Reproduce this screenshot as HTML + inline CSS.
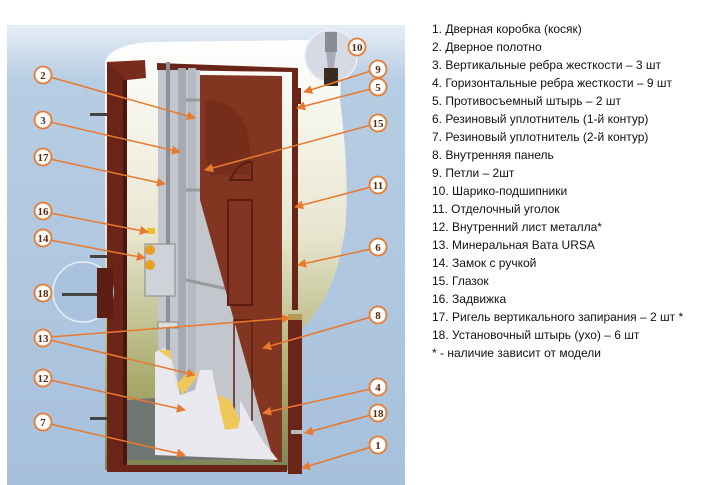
<!DOCTYPE html>
<html><head><meta charset="utf-8"><style>
html,body{margin:0;padding:0;background:#fff;}
body{width:703px;height:485px;overflow:hidden;position:relative;font-family:"Liberation Sans",sans-serif;}
.leg{position:absolute;left:432px;top:20px;font-size:12px;line-height:18px;color:#111;white-space:nowrap;}
</style></head><body>
<svg width="703" height="485" style="position:absolute;left:0;top:0">
<defs>
<linearGradient id="wall" x1="0" y1="0" x2="0" y2="1"><stop offset="0" stop-color="#e6eef6"/><stop offset="0.12" stop-color="#b7cde3"/><stop offset="1" stop-color="#a7c0dc"/></linearGradient>
<linearGradient id="open" x1="0" y1="0" x2="0" y2="1"><stop offset="0" stop-color="#ffffff"/><stop offset="0.45" stop-color="#e8e6cf"/><stop offset="0.8" stop-color="#a8aa6a"/><stop offset="1" stop-color="#7d8455"/></linearGradient>
<marker id="ar" viewBox="0 0 10 10" refX="9" refY="5" markerWidth="6" markerHeight="6" orient="auto"><path d="M0,0L10,5L0,10z" fill="#e8792f"/></marker>
</defs>
<rect x="7" y="25" width="398" height="460" fill="url(#wall)"/>
<path d="M105,62 Q110,45 150,42 L310,40 Q345,50 340,100 Q350,180 345,230 Q335,300 300,330 L300,470 L105,470z" fill="url(#open)"/>
<path d="M127,400 L200,395 L280,460 L127,460z" fill="#6f7570"/>
<rect x="107" y="62" width="20" height="410" fill="#6b2418"/>
<rect x="123" y="80" width="4" height="385" fill="#4a160e"/>
<path d="M107,62 L145,60 L146,78 L127,80z" fill="#7a2c1c"/>
<rect x="127" y="465" width="160" height="7" fill="#6b2418"/>
<rect x="90" y="113" width="17" height="3" fill="#444"/><rect x="90" y="255" width="17" height="3" fill="#444"/><rect x="90" y="417" width="17" height="3" fill="#444"/>
<path d="M157,63 L298,68 L298,310 L292,310 L292,72 L157,70z" fill="#6b2418"/>
<path d="M158,70 L200,70 L200,200 L280,460 L158,440z" fill="#c3c6cc"/>
<rect x="166" y="62" width="4" height="290" fill="#8d9098"/>
<rect x="178" y="68" width="8" height="330" fill="#a6aab3"/>
<rect x="188" y="68" width="8" height="380" fill="#b4b8c0"/>
<line x1="186" y1="100" x2="200" y2="100" stroke="#999" stroke-width="3"/>
<line x1="186" y1="190" x2="205" y2="190" stroke="#999" stroke-width="3"/>
<line x1="186" y1="280" x2="232" y2="290" stroke="#999" stroke-width="3"/>
<path d="M200,75 L282,76 L282,462 L274,462 L200,200z" fill="#823520"/>
<path d="M205,100 Q245,100 250,145 L250,175 L210,175 L205,150z" fill="#6e2a18" opacity="0.6"/>
<rect x="228" y="200" width="24" height="105" fill="none" stroke="#5a1f10" stroke-width="2"/>
<path d="M230,180 Q240,160 252,162 L252,180z" fill="none" stroke="#5a1f10" stroke-width="2"/>
<rect x="234" y="320" width="18" height="100" fill="none" stroke="#5a1f10" stroke-width="1.5"/>
<rect x="288" y="314" width="14" height="160" fill="#6b2418"/>
<rect x="288" y="314" width="14" height="6" fill="#b89a58"/>
<rect x="291" y="430" width="15" height="4" fill="#bbb"/>
<path d="M155,352 L165,348 L172,360 L180,395 L195,390 L200,370 L212,370 L218,400 L240,420 L240,400 L262,440 L278,460 L155,455z" fill="#e8e8ee"/>
<path d="M158,350 L170,350 L176,385 L185,375 L198,372 L195,380 L182,395 L175,380 L172,360z" fill="#f0c85a"/>
<path d="M218,395 L230,400 L240,420 L238,428 L225,430 L220,410z" fill="#f0c85a"/>
<rect x="145" y="244" width="30" height="52" fill="#cfd2d8" stroke="#888"/>
<circle cx="150" cy="250" r="5" fill="#e8a020"/><circle cx="150" cy="265" r="5" fill="#e8a020"/>
<rect x="147" y="228" width="8" height="6" fill="#e8c030"/>
<rect x="158" y="322" width="20" height="6" fill="#ddd" stroke="#888"/>
<circle cx="83" cy="292" r="30" fill="#a9c2dd" stroke="#e8eef6" stroke-width="1.5"/>
<rect x="97" y="268" width="16" height="50" fill="#5a1e12"/>
<rect x="62" y="293" width="35" height="3" fill="#444"/>
<circle cx="331" cy="56" r="26" fill="#d6dbe3" stroke="#eef" stroke-width="1.5"/>
<rect x="325" y="32" width="12" height="20" fill="#8a8e94"/><path d="M326,52 L336,52 L334,68 L328,68z" fill="#aab"/>
<rect x="324" y="68" width="14" height="18" fill="#3a2a20"/>
<rect x="296" y="88" width="5" height="16" fill="#6b2418"/>
<g stroke="#e8792f" stroke-width="1.5" fill="none" marker-end="url(#ar)">
<line x1="50" y1="77" x2="195" y2="118"/>
<line x1="50" y1="122" x2="180" y2="152"/>
<line x1="50" y1="159" x2="165" y2="184"/>
<line x1="50" y1="213" x2="148" y2="232"/>
<line x1="50" y1="240" x2="145" y2="258"/>
<line x1="50" y1="337" x2="290" y2="318"/>
<line x1="50" y1="340" x2="195" y2="375"/>
<line x1="50" y1="380" x2="185" y2="410"/>
<line x1="50" y1="424" x2="185" y2="455"/>
<line x1="371" y1="71" x2="304" y2="92"/>
<line x1="371" y1="89" x2="297" y2="108"/>
<line x1="371" y1="125" x2="205" y2="170"/>
<line x1="371" y1="187" x2="295" y2="207"/>
<line x1="371" y1="249" x2="298" y2="265"/>
<line x1="371" y1="317" x2="263" y2="348"/>
<line x1="371" y1="389" x2="263" y2="413"/>
<line x1="371" y1="415" x2="305" y2="433"/>
<line x1="371" y1="447" x2="302" y2="468"/>
</g>
<g font-family="Liberation Serif,serif" font-size="11" font-weight="bold" fill="#5a2a10" text-anchor="middle">
<g stroke="#e8792f" stroke-width="1.8" fill="#fff">
<circle cx="43" cy="75" r="8.5"/><circle cx="43" cy="120" r="8.5"/><circle cx="43" cy="157" r="8.5"/><circle cx="43" cy="211" r="8.5"/><circle cx="43" cy="238" r="8.5"/><circle cx="43" cy="293" r="8.5"/><circle cx="43" cy="338" r="8.5"/><circle cx="43" cy="378" r="8.5"/><circle cx="43" cy="422" r="8.5"/>
<circle cx="357" cy="47" r="8.5"/><circle cx="378" cy="69" r="8.5"/><circle cx="378" cy="87" r="8.5"/><circle cx="378" cy="123" r="8.5"/><circle cx="378" cy="185" r="8.5"/><circle cx="378" cy="247" r="8.5"/><circle cx="378" cy="315" r="8.5"/><circle cx="378" cy="387" r="8.5"/><circle cx="378" cy="413" r="8.5"/><circle cx="378" cy="445" r="8.5"/>
</g>
<text x="43" y="79">2</text><text x="43" y="124">3</text><text x="43" y="161">17</text><text x="43" y="215">16</text><text x="43" y="242">14</text><text x="43" y="297">18</text><text x="43" y="342">13</text><text x="43" y="382">12</text><text x="43" y="426">7</text>
<text x="357" y="51">10</text><text x="378" y="73">9</text><text x="378" y="91">5</text><text x="378" y="127">15</text><text x="378" y="189">11</text><text x="378" y="251">6</text><text x="378" y="319">8</text><text x="378" y="391">4</text><text x="378" y="417">18</text><text x="378" y="449">1</text>
</g>
</svg>
<div class="leg">
1. Дверная коробка (косяк)<br>
2. Дверное полотно<br>
3. Вертикальные ребра жесткости – 3 шт<br>
4. Горизонтальные ребра жесткости – 9 шт<br>
5. Противосъемный штырь – 2 шт<br>
6. Резиновый уплотнитель (1-й контур)<br>
7. Резиновый уплотнитель (2-й контур)<br>
8. Внутренняя панель<br>
9. Петли – 2шт<br>
10. Шарико-подшипники<br>
11. Отделочный уголок<br>
12. Внутренний лист металла*<br>
13. Минеральная Вата URSA<br>
14. Замок с ручкой<br>
15. Глазок<br>
16. Задвижка<br>
17. Ригель вертикального запирания – 2 шт *<br>
18. Установочный штырь (ухо) – 6 шт<br>
* - наличие зависит от модели
</div>
</body></html>
